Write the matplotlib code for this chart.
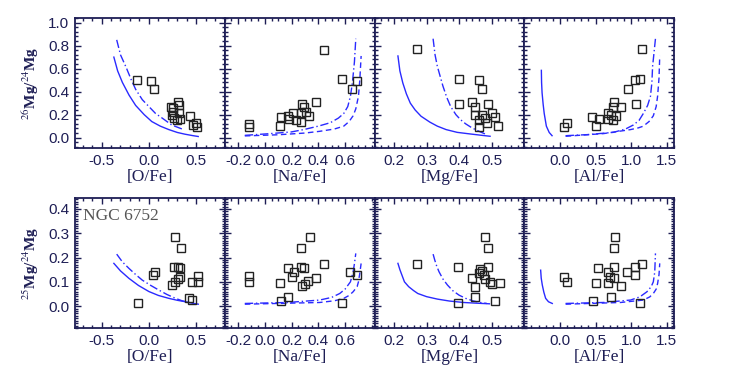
import matplotlib
matplotlib.use("Agg")
import matplotlib.pyplot as plt
from matplotlib.ticker import MultipleLocator, FixedLocator, FormatStrFormatter

# ---- data ----
# top row: 26Mg/24Mg
ofe_26 = [-0.13, 0.02, 0.05, 0.23, 0.25, 0.31, 0.32, 0.24, 0.26, 0.30, 0.32, 0.33, 0.43, 0.46, 0.50, 0.51, 0.25]
r26_ofe = [0.50, 0.49, 0.42, 0.27, 0.26, 0.31, 0.28, 0.20, 0.17, 0.15, 0.21, 0.16, 0.19, 0.11, 0.13, 0.09, 0.22]

nafe_26 = [-0.12, -0.12, 0.44, 0.58, 0.69, 0.65, 0.38, 0.28, 0.29, 0.27, 0.31, 0.33, 0.12, 0.11, 0.17, 0.18, 0.21, 0.23, 0.27]
r26_nafe = [0.12, 0.09, 0.76, 0.51, 0.49, 0.42, 0.31, 0.29, 0.27, 0.21, 0.22, 0.19, 0.18, 0.10, 0.19, 0.16, 0.21, 0.15, 0.14]

mgfe_26 = [0.27, 0.40, 0.46, 0.47, 0.40, 0.44, 0.45, 0.49, 0.45, 0.47, 0.48, 0.50, 0.51, 0.46, 0.485, 0.46, 0.52]
r26_mgfe = [0.77, 0.51, 0.50, 0.42, 0.29, 0.31, 0.27, 0.29, 0.20, 0.20, 0.17, 0.21, 0.18, 0.15, 0.13, 0.09, 0.10]

alfe_26 = [1.15, 1.05, 1.12, 0.95, 1.07, 0.85, 0.76, 0.74, 0.67, 0.71, 0.78, 0.68, 0.75, 0.45, 0.545, 0.51, 0.10, 0.06]
r26_alfe = [0.77, 0.50, 0.51, 0.42, 0.29, 0.27, 0.31, 0.27, 0.21, 0.20, 0.19, 0.16, 0.15, 0.18, 0.165, 0.10, 0.13, 0.09]

# bottom row: 25Mg/24Mg
ofe_25 = [-0.12, 0.04, 0.06, 0.27, 0.34, 0.26, 0.31, 0.33, 0.33, 0.31, 0.28, 0.245, 0.42, 0.455, 0.455, 0.52, 0.52]
r25_ofe = [0.014, 0.128, 0.139, 0.283, 0.24, 0.162, 0.162, 0.155, 0.121, 0.11, 0.10, 0.087, 0.034, 0.025, 0.098, 0.098, 0.125]

nafe_25 = [-0.12, -0.12, 0.34, 0.27, 0.44, 0.17, 0.27, 0.29, 0.22, 0.20, 0.38, 0.32, 0.30, 0.28, 0.11, 0.17, 0.12, 0.58, 0.64, 0.69]
r25_nafe = [0.125, 0.10, 0.283, 0.24, 0.173, 0.158, 0.162, 0.158, 0.142, 0.121, 0.114, 0.104, 0.091, 0.084, 0.096, 0.036, 0.022, 0.014, 0.139, 0.128]

mgfe_25 = [0.27, 0.48, 0.49, 0.396, 0.49, 0.465, 0.46, 0.475, 0.44, 0.48, 0.495, 0.50, 0.525, 0.45, 0.45, 0.396, 0.51, 0.47]
r25_mgfe = [0.173, 0.283, 0.24, 0.159, 0.162, 0.153, 0.135, 0.128, 0.114, 0.111, 0.10, 0.091, 0.096, 0.08, 0.036, 0.014, 0.022, 0.144]

alfe_25 = [0.77, 0.755, 1.15, 1.06, 0.535, 0.755, 0.94, 1.05, 0.67, 0.70, 0.76, 0.67, 0.51, 0.85, 0.056, 0.10, 0.46, 0.71, 1.13]
r25_alfe = [0.283, 0.24, 0.172, 0.159, 0.155, 0.162, 0.139, 0.128, 0.142, 0.121, 0.114, 0.096, 0.096, 0.082, 0.121, 0.098, 0.022, 0.036, 0.014]

# model curves (solid / dash-dot / dashed)
o26_solid_x = [-0.37, -0.33, -0.28, -0.21, -0.14, -0.05, 0.03, 0.12, 0.21, 0.30, 0.38, 0.46, 0.52]
o26_solid_y = [0.70, 0.58, 0.48, 0.37, 0.28, 0.20, 0.14, 0.10, 0.07, 0.045, 0.03, 0.018, 0.01]
o26_dd_x = [-0.34, -0.30, -0.24, -0.19, -0.14, -0.07, 0.00, 0.07, 0.14, 0.24, 0.35]
o26_dd_y = [0.85, 0.72, 0.61, 0.51, 0.42, 0.33, 0.27, 0.21, 0.17, 0.11, 0.075]

na26_dd_x = [-0.15, 0.04, 0.20, 0.29, 0.40, 0.49, 0.55, 0.59, 0.62, 0.64, 0.655, 0.67, 0.68]
na26_dd_y = [0.02, 0.035, 0.05, 0.07, 0.10, 0.13, 0.17, 0.21, 0.27, 0.36, 0.48, 0.66, 0.86]
na26_da_x = [-0.15, 0.10, 0.30, 0.41, 0.52, 0.59, 0.63, 0.66, 0.68, 0.70, 0.71, 0.72]
na26_da_y = [0.015, 0.025, 0.04, 0.055, 0.075, 0.10, 0.14, 0.19, 0.25, 0.36, 0.50, 0.71]

mg26_solid_x = [0.212, 0.218, 0.227, 0.238, 0.25, 0.265, 0.283, 0.31, 0.333, 0.36, 0.394, 0.434, 0.47, 0.495]
mg26_solid_y = [0.71, 0.58, 0.475, 0.38, 0.30, 0.24, 0.186, 0.135, 0.10, 0.07, 0.046, 0.032, 0.02, 0.012]
mg26_dd_x = [0.32, 0.326, 0.333, 0.342, 0.35, 0.362, 0.374, 0.39, 0.404, 0.42, 0.44, 0.465, 0.485]
mg26_dd_y = [0.86, 0.72, 0.62, 0.53, 0.45, 0.35, 0.27, 0.20, 0.157, 0.12, 0.084, 0.05, 0.026]

al26_solid_x = [-0.26, -0.257, -0.25, -0.235, -0.22, -0.19, -0.15, -0.11]
al26_solid_y = [0.585, 0.48, 0.39, 0.29, 0.21, 0.10, 0.045, 0.017]
al26_dd_x = [0.08, 0.38, 0.75, 0.92, 1.03, 1.11, 1.17, 1.23, 1.27, 1.29, 1.30, 1.32, 1.34]
al26_dd_y = [0.017, 0.026, 0.046, 0.075, 0.11, 0.15, 0.21, 0.28, 0.36, 0.48, 0.62, 0.74, 0.86]
al26_da_x = [0.08, 0.61, 0.99, 1.10, 1.17, 1.25, 1.31, 1.35, 1.37, 1.39, 1.40]
al26_da_y = [0.012, 0.035, 0.07, 0.085, 0.10, 0.14, 0.19, 0.27, 0.36, 0.52, 0.71]

o25_solid_x = [-0.37, -0.30, -0.21, -0.11, 0.00, 0.10, 0.21, 0.30, 0.385, 0.46, 0.52]
o25_solid_y = [0.176, 0.145, 0.114, 0.085, 0.06, 0.044, 0.032, 0.024, 0.018, 0.012, 0.008]
o25_dd_x = [-0.34, -0.28, -0.21, -0.14, -0.07, 0.02, 0.105, 0.19, 0.28, 0.35, 0.42]
o25_dd_y = [0.214, 0.182, 0.155, 0.13, 0.107, 0.085, 0.066, 0.048, 0.032, 0.022, 0.015]

na25_dd_x = [-0.15, 0.17, 0.41, 0.50, 0.56, 0.60, 0.64, 0.66, 0.67, 0.68]
na25_dd_y = [0.011, 0.015, 0.025, 0.036, 0.052, 0.07, 0.10, 0.14, 0.175, 0.217]
na25_da_x = [-0.15, 0.41, 0.52, 0.59, 0.63, 0.66, 0.69, 0.70, 0.71, 0.72]
na25_da_y = [0.008, 0.015, 0.022, 0.032, 0.044, 0.059, 0.08, 0.10, 0.135, 0.176]

mg25_solid_x = [0.212, 0.218, 0.225, 0.232, 0.245, 0.26, 0.273, 0.30, 0.333, 0.37, 0.414, 0.455, 0.493]
mg25_solid_y = [0.176, 0.15, 0.125, 0.10, 0.08, 0.064, 0.052, 0.039, 0.029, 0.021, 0.015, 0.012, 0.0096]
mg25_dd_x = [0.32, 0.325, 0.331, 0.338, 0.35, 0.364, 0.38, 0.40, 0.42, 0.444, 0.465, 0.485]
mg25_dd_y = [0.214, 0.19, 0.165, 0.142, 0.112, 0.087, 0.064, 0.045, 0.032, 0.021, 0.015, 0.011]

al25_solid_x = [-0.27, -0.262, -0.247, -0.225, -0.2, -0.16, -0.107]
al25_solid_y = [0.148, 0.115, 0.087, 0.057, 0.032, 0.018, 0.011]
al25_dd_x = [0.08, 0.61, 0.99, 1.12, 1.22, 1.28, 1.31, 1.33, 1.34]
al25_dd_y = [0.011, 0.015, 0.025, 0.038, 0.059, 0.08, 0.10, 0.14, 0.217]
al25_da_x = [0.08, 0.85, 1.17, 1.26, 1.31, 1.35, 1.37, 1.39, 1.40]
al25_da_y = [0.008, 0.015, 0.025, 0.038, 0.052, 0.07, 0.093, 0.13, 0.176]

x_labels = ["[O/Fe]", "[Na/Fe]", "[Mg/Fe]", "[Al/Fe]"]
x_limits = [(-0.78, 0.8), (-0.3, 0.82), (0.14, 0.6), (-0.5, 1.6)]
x_ticks = [[-0.5, 0.0, 0.5], [-0.2, 0.0, 0.2, 0.4, 0.6], [0.2, 0.3, 0.4, 0.5], [0.0, 0.5, 1.0, 1.5]]
x_minor = [0.1, 0.05, 0.02, 0.1]

NAVY = "#1e1e55"
BLUE = "#2a2aff"
SQ = "#222222"
SERIF = ["Liberation Serif", "DejaVu Serif"]

plt.rcParams["font.family"] = ["Liberation Sans", "DejaVu Sans"]
plt.rcParams["mathtext.fontset"] = "stix"

fig = plt.figure(figsize=(7.47, 3.74), dpi=100)

left, w = 75 / 747, 149.75 / 747
h = 130 / 374
bottoms = [1 - 148 / 374, 1 - 328 / 374]

top_pts = [(ofe_26, r26_ofe), (nafe_26, r26_nafe), (mgfe_26, r26_mgfe), (alfe_26, r26_alfe)]
bot_pts = [(ofe_25, r25_ofe), (nafe_25, r25_nafe), (mgfe_25, r25_mgfe), (alfe_25, r25_alfe)]

top_curves = [
    [(o26_solid_x, o26_solid_y, "-"), (o26_dd_x, o26_dd_y, "-.")],
    [(na26_dd_x, na26_dd_y, "-."), (na26_da_x, na26_da_y, "--")],
    [(mg26_solid_x, mg26_solid_y, "-"), (mg26_dd_x, mg26_dd_y, "-.")],
    [(al26_solid_x, al26_solid_y, "-"), (al26_dd_x, al26_dd_y, "-."), (al26_da_x, al26_da_y, "--")],
]
bot_curves = [
    [(o25_solid_x, o25_solid_y, "-"), (o25_dd_x, o25_dd_y, "-.")],
    [(na25_dd_x, na25_dd_y, "-."), (na25_da_x, na25_da_y, "--")],
    [(mg25_solid_x, mg25_solid_y, "-"), (mg25_dd_x, mg25_dd_y, "-.")],
    [(al25_solid_x, al25_solid_y, "-"), (al25_dd_x, al25_dd_y, "-."), (al25_da_x, al25_da_y, "--")],
]

for row in range(2):
    pts = top_pts if row == 0 else bot_pts
    curves = top_curves if row == 0 else bot_curves
    for col in range(4):
        ax = fig.add_axes([left + col * w, bottoms[row], w, h])
        for cx, cy, ls in curves[col]:
            if ls == "-.":
                ax.plot(cx, cy, color=BLUE, lw=1.0, ls=(0, (6, 2, 1, 2)))
            elif ls == "--":
                ax.plot(cx, cy, color=BLUE, lw=1.0, ls=(0, (4, 2.5)))
            else:
                ax.plot(cx, cy, color=BLUE, lw=1.0)
        ax.plot(pts[col][0], pts[col][1], ls="none", marker="s", ms=5.8,
                mfc="none", mec=SQ, mew=1.0)

        ax.set_xlim(*x_limits[col])
        ax.xaxis.set_major_locator(FixedLocator(x_ticks[col]))
        ax.xaxis.set_minor_locator(MultipleLocator(x_minor[col]))
        ax.xaxis.set_major_formatter(FormatStrFormatter("%.1f"))
        if row == 0:
            ax.set_ylim(-0.09, 1.04)
            ax.yaxis.set_major_locator(MultipleLocator(0.2))
            ax.yaxis.set_minor_locator(MultipleLocator(0.04))
        else:
            ax.set_ylim(-0.09, 0.445)
            ax.yaxis.set_major_locator(MultipleLocator(0.1))
            ax.yaxis.set_minor_locator(MultipleLocator(0.01))
        ax.yaxis.set_major_formatter(FormatStrFormatter("%.1f"))

        ax.tick_params(which="both", direction="in", top=True, right=True,
                       color=NAVY, labelcolor=NAVY, labelsize=11, width=1.0)
        ax.tick_params(which="major", length=4.5, pad=4)
        ax.tick_params(which="minor", length=2.2)
        for s in ax.spines.values():
            s.set_color(NAVY)
            s.set_linewidth(1.3)

        ax.set_xlabel(x_labels[col], family=SERIF, fontsize=12.5, color=NAVY, labelpad=1)
        if col == 0:
            iso = "26" if row == 0 else "25"
            ax.set_ylabel(r"$^{%s}$Mg/$^{24}$Mg" % iso, family=SERIF,
                          fontweight="bold", fontsize=11, color=NAVY, labelpad=5)
        else:
            ax.tick_params(labelleft=False)

        if row == 1 and col == 0:
            ax.text(0.055, 0.86, "NGC 6752", transform=ax.transAxes,
                    family=SERIF, fontsize=12.5, color="#555555", ha="left", va="center")

fig.savefig("out.png", dpi=100)
